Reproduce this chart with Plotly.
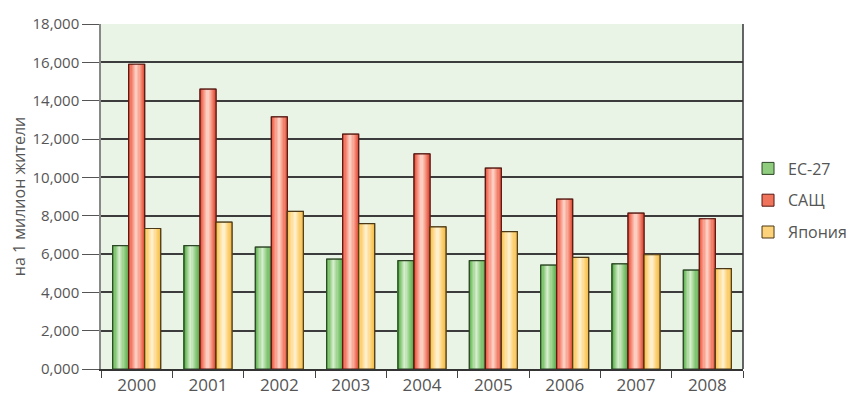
import plotly.graph_objects as go

years = ['2000', '2001', '2002', '2003', '2004', '2005', '2006', '2007', '2008']
eu27 = [6440, 6440, 6360, 5730, 5650, 5650, 5420, 5490, 5160]
usa = [15900, 14600, 13150, 12250, 11220, 10480, 8860, 8130, 7840]
japan = [7330, 7660, 8220, 7590, 7420, 7170, 5820, 5960, 5240]
series_names = ['ЕС-27', 'САЩ', 'Япония']
y_tickvals = [0, 2000, 4000, 6000, 8000, 10000, 12000, 14000, 16000, 18000]
y_ticktext = ['0,000', '2,000', '4,000', '6,000', '8,000', '10,000', '12,000', '14,000', '16,000', '18,000']
y_title = 'на 1 милион жители'

series_values = [eu27, usa, japan]

# styling (gradient stops across each bar, left to right)
gradients = [
    [(0, (72, 150, 60)), (0.12, (112, 190, 96)), (0.45, (218, 239, 210)), (0.72, (150, 208, 134)), (1, (92, 172, 78))],
    [(0, (206, 56, 38)), (0.12, (242, 104, 82)), (0.5, (255, 216, 204)), (0.75, (246, 150, 130)), (1, (226, 78, 56))],
    [(0, (244, 182, 56)), (0.12, (252, 202, 98)), (0.5, (255, 243, 214)), (0.75, (253, 214, 130)), (1, (245, 190, 72))],
]
legend_colors = ['#8fcc7e', '#f0735c', '#fcd27a']
outline_colors = ['#2c4626', '#561812', '#4a3816']

W = 0.2244
offsets = [-1.5 * W, -0.5 * W, 0.5 * W]
N = 14


def interp(stops, t):
    for (t0, c0), (t1, c1) in zip(stops[:-1], stops[1:]):
        if t0 <= t <= t1:
            f = (t - t0) / (t1 - t0) if t1 > t0 else 0
            c = [round(a + (b - a) * f) for a, b in zip(c0, c1)]
            return 'rgb(%d,%d,%d)' % tuple(c)
    c = stops[-1][1]
    return 'rgb(%d,%d,%d)' % tuple(c)


fig = go.Figure()

for k, name in enumerate(series_names):
    # legend / base bar
    fig.add_trace(go.Bar(
        x=years, y=series_values[k], name=name,
        offset=offsets[k], width=W,
        marker=dict(color=legend_colors[k], line=dict(color=outline_colors[k], width=1)),
        legendgroup=name, showlegend=True, hoverinfo='skip'))
    # gradient strips
    for i in range(N):
        t = (i + 0.5) / N
        fig.add_trace(go.Bar(
            x=years, y=series_values[k],
            offset=offsets[k] + i * W / N, width=W / N * 1.15,
            marker=dict(color=interp(gradients[k], t), line=dict(width=0)),
            legendgroup=name, showlegend=False, hoverinfo='skip'))
    # outline
    fig.add_trace(go.Bar(
        x=years, y=series_values[k],
        offset=offsets[k], width=W,
        marker=dict(color='rgba(0,0,0,0)', line=dict(color=outline_colors[k], width=1.2)),
        legendgroup=name, showlegend=False, hoverinfo='skip'))

font_family = 'Open Sans, sans-serif'

fig.update_layout(
    width=851, height=401,
    margin=dict(l=101, r=108, t=24, b=32, autoexpand=False),
    paper_bgcolor='white',
    plot_bgcolor='#eaf4e6',
    barmode='overlay',
    showlegend=True,
    legend=dict(
        xref='container', yref='container',
        x=0.879, y=0.5, xanchor='left', yanchor='middle',
        font=dict(family=font_family, size=16, color='#555555'),
        tracegroupgap=8, bgcolor='rgba(0,0,0,0)',
    ),
    font=dict(family=font_family, color='#555555'),
    xaxis=dict(
        type='category', range=[-0.5, 8.5], automargin=False,
        tickson='boundaries', ticks='outside', ticklen=7, tickcolor='#444444', tickwidth=1,
        showline=True, linecolor='#333333', linewidth=1.5,
        showgrid=False, tickfont=dict(size=17, color='#555555', family=font_family),
        fixedrange=True,
    ),
    yaxis=dict(
        range=[0, 18000], tickvals=y_tickvals, ticktext=y_ticktext, automargin=False,
        ticks='outside', ticklen=17, tickcolor='#555555', tickwidth=1,
        showline=True, linecolor='#888888', linewidth=1.5,
        showgrid=True, gridcolor='#3c3c3c', gridwidth=1.5, zeroline=False,
        tickfont=dict(size=15, color='#555555', family=font_family),
        title=dict(text=y_title, font=dict(size=16, color='#555555', family=font_family), standoff=3),
        fixedrange=True,
    ),
    shapes=[dict(type='line', xref='paper', yref='paper', x0=1, x1=1, y0=0, y1=1,
                 line=dict(color='#333333', width=1.5))],
)

fig.write_html('out.html')
